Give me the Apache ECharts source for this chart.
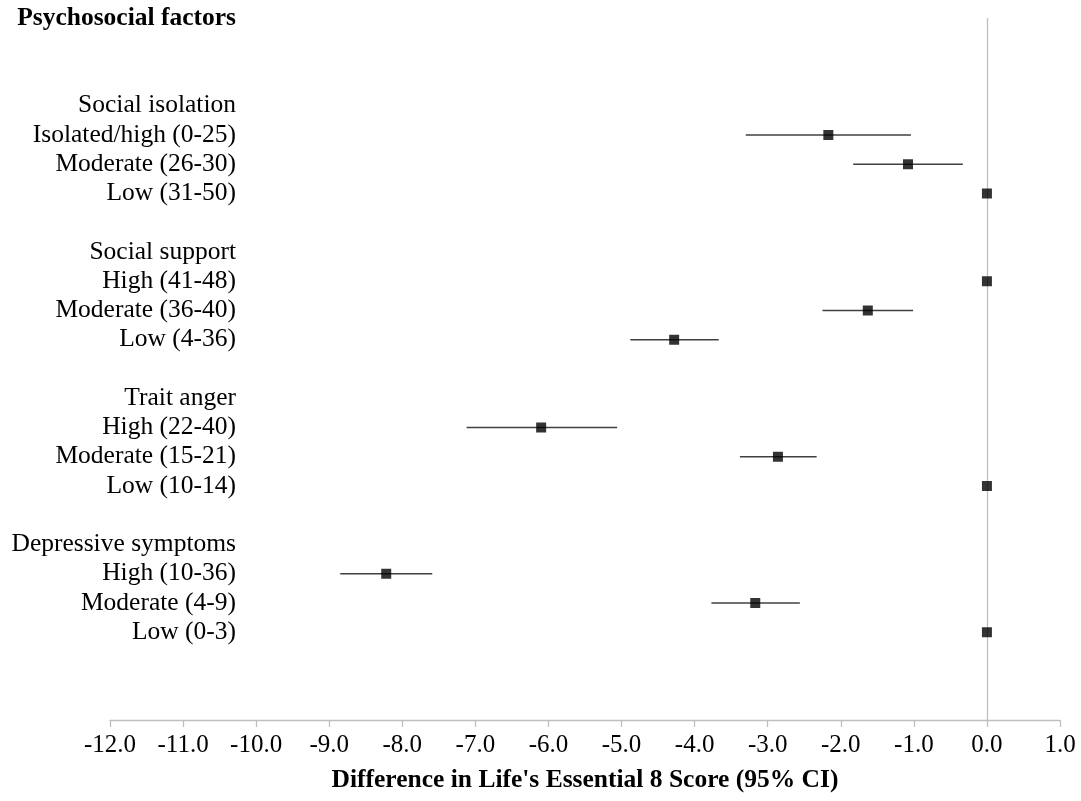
<!DOCTYPE html>
<html>
<head>
<meta charset="utf-8">
<script src="https://cdn.jsdelivr.net/npm/echarts@6/dist/echarts.min.js"></script>
<style>
  html, body { margin: 0; padding: 0; background: #fff; }
  #chart { width: 1081px; height: 801px; }
</style>
</head>
<body>
<div id="chart"></div>
<script>
// row labels, top to bottom (blank rows are spacers)
const rowLabels = [
    'Psychosocial factors', '', '',
    'Social isolation', 'Isolated/high (0-25)', 'Moderate (26-30)', 'Low (31-50)', '',
    'Social support', 'High (41-48)', 'Moderate (36-40)', 'Low (4-36)', '',
    'Trait anger', 'High (22-40)', 'Moderate (15-21)', 'Low (10-14)', '',
    'Depressive symptoms', 'High (10-36)', 'Moderate (4-9)', 'Low (0-3)', '', '', ''
];
// estimates and 95% CI per row (null = heading / spacer)
const estimate = [
    null, null, null,
    null, -2.17, -1.08, 0, null,
    null, 0, -1.63, -4.28, null,
    null, -6.10, -2.86, 0, null,
    null, -8.22, -3.17, 0, null, null, null
];
const ciLow = [
    null, null, null,
    null, -3.30, -1.83, 0, null,
    null, 0, -2.25, -4.88, null,
    null, -7.12, -3.38, 0, null,
    null, -8.85, -3.77, 0, null, null, null
];
const ciHigh = [
    null, null, null,
    null, -1.04, -0.33, 0, null,
    null, 0, -1.01, -3.67, null,
    null, -5.06, -2.33, 0, null,
    null, -7.59, -2.56, 0, null, null, null
];
const xTicks = { min: -12, max: 1, interval: 1 };

const font = '"Liberation Serif", "Times New Roman", serif';
const chart = echarts.init(document.getElementById('chart'));

const pointData = [];
const ciData = [];
estimate.forEach((v, i) => {
    if (v === null) return;
    pointData.push([v, i]);
    if (ciLow[i] !== ciHigh[i]) ciData.push([ciLow[i], ciHigh[i], i]);
});

const option = {
    animation: false,
    backgroundColor: '#fff',
    grid: { left: 110, right: 21, top: 18, bottom: 81 },
    xAxis: {
        type: 'value',
        min: xTicks.min,
        max: xTicks.max,
        interval: xTicks.interval,
        name: "Difference in Life's Essential 8 Score (95% CI)",
        nameLocation: 'middle',
        nameGap: 47,
        nameTextStyle: { fontFamily: font, fontSize: 25.5, fontWeight: 'bold', color: '#000' },
        axisLine: { onZero: false, lineStyle: { color: '#bfbfbf', width: 1.3 } },
        axisTick: { show: true, length: 7, lineStyle: { color: '#bfbfbf', width: 1.3 } },
        axisLabel: {
            fontFamily: font, fontSize: 25, color: '#000', margin: 13,
            formatter: v => v.toFixed(1)
        },
        splitLine: { show: false }
    },
    yAxis: {
        type: 'value',
        inverse: true,
        min: 0,
        max: rowLabels.length - 1,
        interval: 1,
        offset: -126,
        axisLine: { show: false },
        axisTick: { show: false },
        splitLine: { show: false },
        axisLabel: {
            margin: 0,
            color: '#000',
            fontFamily: font,
            fontSize: 25.5,
            formatter: v => {
                const t = rowLabels[v] || '';
                return v === 0 ? '{b|' + t + '}' : t;
            },
            rich: { b: { fontFamily: font, fontSize: 25.5, fontWeight: 'bold', color: '#000' } }
        }
    },
    series: [
        {
            type: 'custom',
            data: ciData,
            encode: { x: [0, 1], y: 2 },
            renderItem: (params, api) => {
                const a = api.coord([api.value(0), api.value(2)]);
                const b = api.coord([api.value(1), api.value(2)]);
                return {
                    type: 'line',
                    shape: { x1: a[0], y1: a[1], x2: b[0], y2: b[1] },
                    style: { stroke: '#404040', lineWidth: 1.4 }
                };
            },
            z: 2,
            markLine: {
                silent: true,
                symbol: 'none',
                label: { show: false },
                lineStyle: { color: '#bfbfbf', width: 1.3, type: 'solid' },
                data: [{ xAxis: 0 }]
            }
        },
        {
            type: 'scatter',
            data: pointData,
            symbol: 'rect',
            symbolSize: 10,
            itemStyle: { color: '#000' },
            z: 5
        }
    ]
};
chart.setOption(option);
</script>
</body>
</html>
